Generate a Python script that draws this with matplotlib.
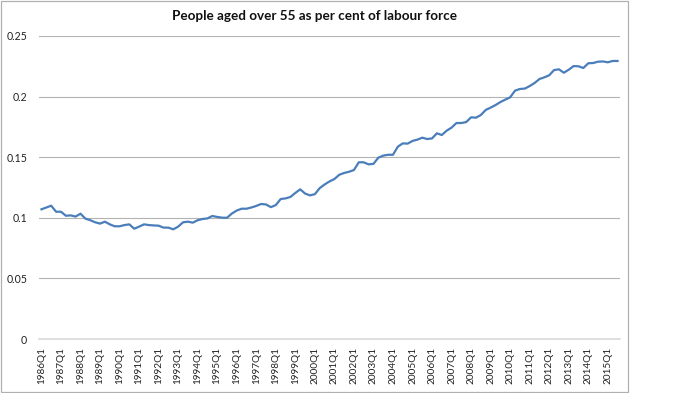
import matplotlib
matplotlib.use("Agg")
import matplotlib.pyplot as plt
from matplotlib.patches import Rectangle

# quarterly share of people aged over 55 in the labour force, 1986Q1 - 2015Q3
first_year = 1986
share_55plus = [
    0.107, 0.1085, 0.110, 0.105, 0.105, 0.1017, 0.102, 0.101,      # 1986-87
    0.1034, 0.0993, 0.098, 0.0963, 0.0952, 0.0968, 0.0946, 0.093,   # 1988-89
    0.093, 0.094, 0.0946, 0.091, 0.0927, 0.0946, 0.094, 0.0937,     # 1990-91
    0.0935, 0.0919, 0.0919, 0.0905, 0.0927, 0.0963, 0.0968, 0.096,  # 1992-93
    0.098, 0.099, 0.0995, 0.1015, 0.1007, 0.1001, 0.100, 0.1035,    # 1994-95
    0.106, 0.1075, 0.1075, 0.1085, 0.1098, 0.1114, 0.111, 0.1088,   # 1996-97
    0.1105, 0.1155, 0.116, 0.1172, 0.1205, 0.1235, 0.120, 0.1185,   # 1998-99
    0.1195, 0.1245, 0.1275, 0.130, 0.132, 0.1355, 0.137, 0.138,     # 2000-01
    0.1394, 0.1458, 0.1458, 0.1441, 0.1445, 0.1496, 0.1513, 0.152,  # 2002-03
    0.152, 0.1587, 0.1614, 0.1612, 0.1634, 0.1645, 0.1661, 0.165,   # 2004-05
    0.1655, 0.1697, 0.1683, 0.1719, 0.1744, 0.1782, 0.1782, 0.179,  # 2006-07
    0.1829, 0.1826, 0.1848, 0.189, 0.1909, 0.193, 0.1955, 0.1975,   # 2008-09
    0.1994, 0.2049, 0.2063, 0.2066, 0.2087, 0.2112, 0.2145, 0.2159, # 2010-11
    0.2176, 0.2219, 0.2225, 0.2197, 0.2222, 0.2252, 0.225, 0.2236,  # 2012-13
    0.2275, 0.2277, 0.2288, 0.229, 0.2283, 0.2294, 0.2294,          # 2014-15Q3
]
quarters = [f"{first_year + i // 4}Q{i % 4 + 1}" for i in range(len(share_55plus))]
y_ticks = [0, 0.05, 0.1, 0.15, 0.2, 0.25]
y_labels = ["0", "0.05", "0.1", "0.15", "0.2", "0.25"]

plt.rcParams['font.family'] = ['Lato', 'DejaVu Sans']

fig = plt.figure(figsize=(7, 3.93), dpi=100)
ax = fig.add_axes([39 / 700, 54 / 393, 581 / 700, 303 / 393])

x = list(range(len(share_55plus)))
ax.plot(x, share_55plus, color='#4A7EBB', lw=1.6, solid_joinstyle='round', zorder=3)

ax.set_xlim(-0.5, len(share_55plus) - 0.5)
ax.set_ylim(0, 0.25)
ax.set_yticks(y_ticks)
ax.set_yticklabels(y_labels)
ax.set_xticks(x[::4])
ax.set_xticklabels(quarters[::4], rotation=90)
ax.tick_params(axis='y', length=0, pad=8.5, labelsize=7.6, labelcolor='#222222')
ax.tick_params(axis='x', length=0, pad=5.5, labelsize=7.2, labelcolor='#222222')

ax.grid(axis='y', color='#B3B3B3', lw=0.8)
ax.set_axisbelow(True)
for side in ['top', 'right', 'left']:
    ax.spines[side].set_visible(False)
ax.spines['bottom'].set_color('#D9D9D9')
ax.spines['bottom'].set_linewidth(1.2)

# chart frame and title, like the Excel chart box
fig.add_artist(Rectangle((0.5 / 700, 1 / 393), 627 / 700, 391.5 / 393,
                         transform=fig.transFigure, fill=False,
                         edgecolor='#B0B0B0', lw=0.9))
fig.text(314 / 700, 1 - 15.5 / 393, "People aged over 55 as per cent of labour force",
         ha='center', va='center', fontsize=9.7, fontweight='bold', color='#111111')

fig.savefig("out.png", dpi=100)
